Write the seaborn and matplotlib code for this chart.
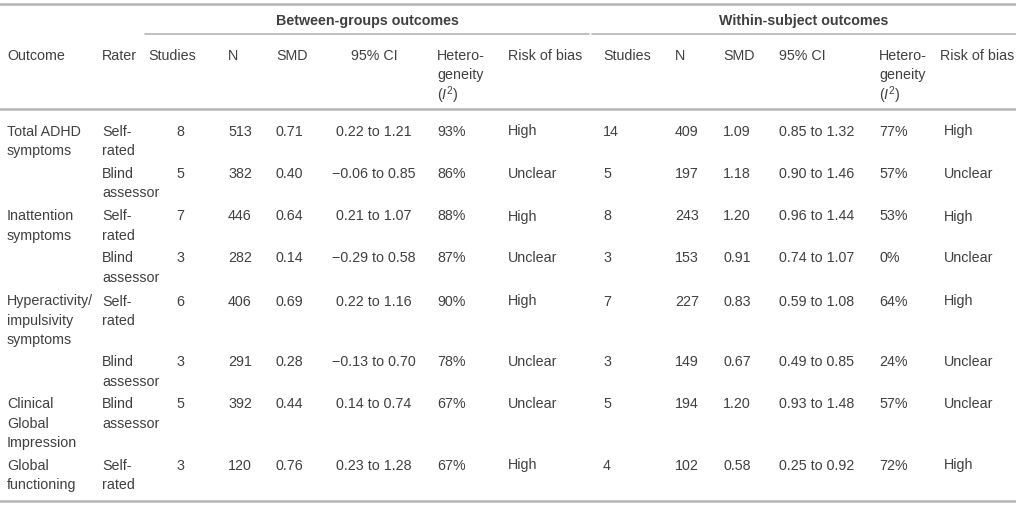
import pandas as pd
import seaborn as sns
import matplotlib.pyplot as plt

# table contents
outcomes = ["Total ADHD\nsymptoms", "", "Inattention\nsymptoms", "",
            "Hyperactivity/\nimpulsivity\nsymptoms", "",
            "Clinical\nGlobal\nImpression", "Global\nfunctioning"]
raters = ["Self-\nrated", "Blind\nassessor", "Self-\nrated", "Blind\nassessor",
          "Self-\nrated", "Blind\nassessor", "Blind\nassessor", "Self-\nrated"]

bg_studies = [8, 5, 7, 3, 6, 3, 5, 3]
bg_n = [513, 382, 446, 282, 406, 291, 392, 120]
bg_smd = ["0.71", "0.40", "0.64", "0.14", "0.69", "0.28", "0.44", "0.76"]
bg_ci = ["0.22 to 1.21", "\u22120.06 to 0.85", "0.21 to 1.07", "\u22120.29 to 0.58",
         "0.22 to 1.16", "\u22120.13 to 0.70", "0.14 to 0.74", "0.23 to 1.28"]
bg_i2 = ["93%", "86%", "88%", "87%", "90%", "78%", "67%", "67%"]
bg_rob = ["High", "Unclear", "High", "Unclear", "High", "Unclear", "Unclear", "High"]

ws_studies = [14, 5, 8, 3, 7, 3, 5, 4]
ws_n = [409, 197, 243, 153, 227, 149, 194, 102]
ws_smd = ["1.09", "1.18", "1.20", "0.91", "0.83", "0.67", "1.20", "0.58"]
ws_ci = ["0.85 to 1.32", "0.90 to 1.46", "0.96 to 1.44", "0.74 to 1.07",
         "0.59 to 1.08", "0.49 to 0.85", "0.93 to 1.48", "0.25 to 0.92"]
ws_i2 = ["77%", "57%", "53%", "0%", "64%", "24%", "57%", "72%"]
ws_rob = ["High", "Unclear", "High", "Unclear", "High", "Unclear", "Unclear", "High"]

headers = ["Outcome", "Rater", "Studies", "N", "SMD", "95% CI",
           "Hetero-\ngeneity\n($\\mathit{I}^{2}$)", "Risk of bias",
           "Studies", "N", "SMD", "95% CI",
           "Hetero-\ngeneity\n($\\mathit{I}^{2}$)", "Risk of bias"]

df = pd.DataFrame({
    "outcome": outcomes, "rater": raters,
    "bg_studies": bg_studies, "bg_n": bg_n, "bg_smd": bg_smd, "bg_ci": bg_ci,
    "bg_i2": bg_i2, "bg_rob": bg_rob,
    "ws_studies": ws_studies, "ws_n": ws_n, "ws_smd": ws_smd, "ws_ci": ws_ci,
    "ws_i2": ws_i2, "ws_rob": ws_rob,
})

sns.set_theme(style="white")
plt.rcParams['font.family'] = ['Liberation Sans', 'DejaVu Sans']
plt.rcParams['mathtext.fontset'] = 'custom'
plt.rcParams['mathtext.rm'] = 'Liberation Sans'
plt.rcParams['mathtext.it'] = 'Liberation Sans:italic'

txt = "#404040"
rule = "#b4b4b4"
fs = 10.3
lh = 19.3

# column layout in pixels: (x, alignment); header x can differ from cell x
cols = [(7, "left"), (102, "left"), (176, "left"), (228, "left"), (276, "left"),
        (374, "center"), (437, "left"), (508, "left"),
        (603, "left"), (675, "left"), (723, "left"), (779, "left"),
        (879, "left"), (944, "left")]
head_x = [7, 102, 148, 228, 276, 374, 437, 508, 603, 675, 723, 779, 879, 940]
row_y = [130, 172, 215, 257, 300, 361, 403, 464]

fig = plt.figure(figsize=(10.16, 5.05), dpi=100)
ax = fig.add_axes([0, 0, 1, 1])
ax.set_xlim(0, 1016)
ax.set_ylim(505, 0)
ax.axis("off")


def put(x, y, s, ha, **kw):
    for i, line in enumerate(str(s).split("\n")):
        ax.text(x, y + i * lh, line, ha=ha, va="center_baseline",
                fontsize=fs, color=txt, **kw)


# rules
ax.plot([0, 1016], [4, 4], color=rule, lw=1.8)
ax.plot([145, 589], [34, 34], color=rule, lw=1.2)
ax.plot([592, 1016], [34, 34], color=rule, lw=1.2)
ax.plot([0, 1016], [109, 109], color=rule, lw=1.8)
ax.plot([0, 1016], [501, 501], color=rule, lw=1.8)

# group headers
put(367, 20, "Between-groups outcomes", "center", fontweight="bold")
put(804, 20, "Within-subject outcomes", "center", fontweight="bold")

for x, (_, ha), h in zip(head_x, cols, headers):
    put(x, 54, h, ha)

for r, (_, row) in enumerate(df.iterrows()):
    for (x, ha), val in zip(cols, row.values):
        put(x, row_y[r], val, ha)

fig.savefig("out.png", dpi=100, facecolor="white")
